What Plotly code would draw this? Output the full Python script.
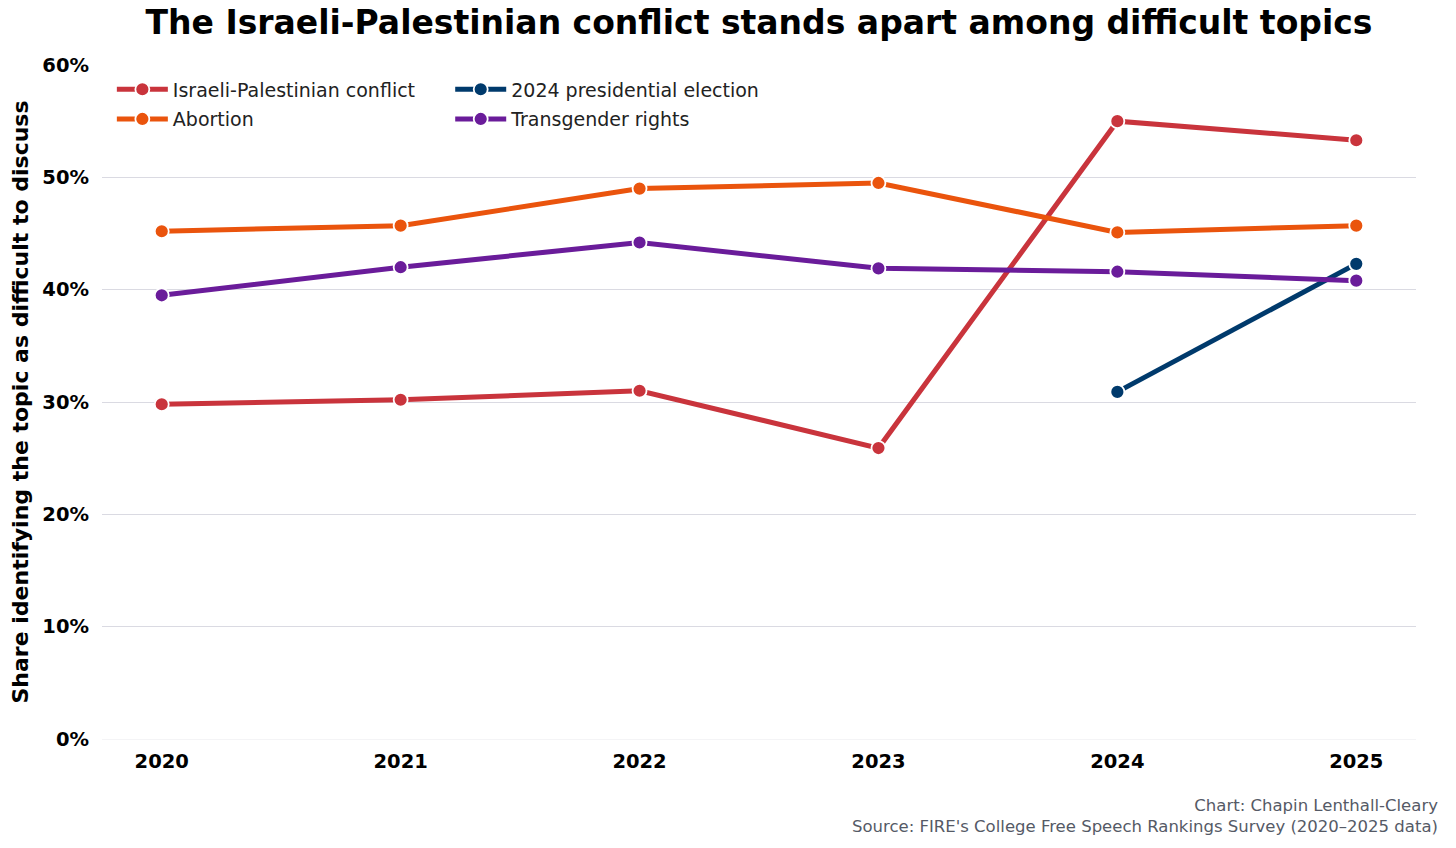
import plotly.graph_objects as go

years = [2020, 2021, 2022, 2023, 2024, 2025]

israeli_palestinian = [29.8, 30.2, 31.0, 25.9, 55.0, 53.3]
abortion = [45.2, 45.7, 49.0, 49.5, 45.1, 45.7]
transgender_rights = [39.5, 42.0, 44.2, 41.9, 41.6, 40.8]
election_years = [2024, 2025]
presidential_election = [30.9, 42.3]

y_ticks = [0, 10, 20, 30, 40, 50, 60]
y_tick_labels = [f"{v}%" for v in y_ticks]

FONT = "DejaVu Sans"

series = [
    # name, x, y, colour, legend box, rank
    ("Israeli-Palestinian conflict", years, israeli_palestinian, "#c9343c", "legend", 1),
    ("Abortion", years, abortion, "#ea540d", "legend", 2),
    ("2024 presidential election", election_years, presidential_election, "#003a6c", "legend2", 1),
    ("Transgender rights", years, transgender_rights, "#6a1c9a", "legend2", 2),
]

fig = go.Figure()
for name, xs, ys, colour, leg, rank in series:
    fig.add_trace(go.Scatter(
        x=xs, y=ys, name=name,
        mode="lines+markers",
        line=dict(color=colour, width=5),
        marker=dict(size=14, color=colour, line=dict(color="white", width=1.8)),
        legend=leg, legendrank=rank, legendgroup=name,
        hovertemplate="%{x}: %{y:.1f}%<extra>" + name + "</extra>",
    ))

legend_style = dict(
    font=dict(family=FONT, size=19, color="#222"),
    bgcolor="rgba(0,0,0,0)",
    xanchor="left", yanchor="top",
    itemwidth=51, tracegroupgap=2,
)

# the page body adds an 8px margin, so the margins below are shifted by 8px
fig.update_layout(
    width=1456, height=848,
    paper_bgcolor="white", plot_bgcolor="white",
    margin=dict(l=94, r=48, t=57, b=117),
    font=dict(family=FONT, color="black"),
    title=dict(
        text="<b>The Israeli-Palestinian conflict stands apart among difficult topics</b>",
        font=dict(family=FONT, size=33, color="black"),
        xref="paper", x=0.5, xanchor="center",
        y=0.983, yanchor="middle",
    ),
    legend=dict(x=0.0075, y=0.992, **legend_style),
    legend2=dict(x=0.265, y=0.992, **legend_style),
    xaxis=dict(
        range=[2019.75, 2025.25],
        tickvals=years, ticktext=[str(y) for y in years],
        tickfont=dict(family=FONT, size=19.5, color="black", weight="bold"),
        showgrid=False, zeroline=False, showline=False,
        ticks="", ticklabelstandoff=8, automargin=False,
    ),
    yaxis=dict(
        range=[0, 60],
        tickvals=y_ticks, ticktext=y_tick_labels,
        tickfont=dict(family=FONT, size=19.5, color="black", weight="bold"),
        showgrid=True, gridcolor="#dadae2", gridwidth=1.2,
        zeroline=True, zerolinecolor="#f4f4f6", zerolinewidth=1.2,
        showline=False, ticks="", ticklabelstandoff=12, automargin=False,
        title=dict(
            text="<b>Share identifying the topic as difficult to discuss</b>",
            font=dict(family=FONT, size=22, color="black"),
            standoff=7,
        ),
    ),
    annotations=[
        dict(
            text="Chart: Chapin Lenthall-Cleary<br>Source: FIRE's College Free Speech Rankings Survey (2020–2025 data)",
            xref="paper", yref="paper", x=1.0185, y=-0.0815,
            xanchor="right", yanchor="top", align="right", showarrow=False,
            font=dict(family=FONT, size=16.5, color="#555a66"),
        )
    ],
)

fig.write_html("out.html")
